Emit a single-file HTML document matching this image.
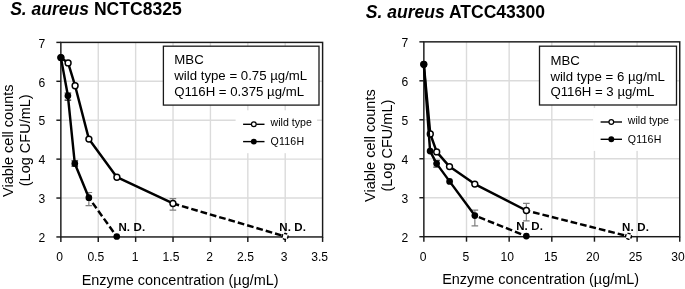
<!DOCTYPE html>
<html><head><meta charset="utf-8"><title>MBC</title>
<style>
html,body{margin:0;padding:0;background:#fff}
svg{display:block}
text{font-family:"Liberation Sans",Arial,Helvetica,sans-serif;fill:#000}
.t{font-size:17.55px;font-weight:bold}
.ax{font-size:14.5px}
.tk{font-size:12.1px}
.mb{font-size:13.22px}
.lg{font-size:10.6px}
.nd{font-size:11.5px;font-weight:bold;letter-spacing:.15px}
.grid{stroke:#dbdbdb;stroke-width:1.4;fill:none}
.axl{stroke:#1a1a1a;stroke-width:1.45;fill:none}
.dl{stroke:#000;stroke-width:2.45;fill:none;stroke-linejoin:round;stroke-linecap:butt}
.da{stroke-dasharray:6.7 3}
.eb{stroke-width:1.2;fill:none}
.mo{fill:#fff;stroke:#000;stroke-width:1.45}
.mf{fill:#000;stroke:none}
.ll{stroke:#000;stroke-width:1.4;fill:none}
</style></head>
<body>
<svg width="685" height="289" viewBox="0 0 685 289">
<rect x="0" y="0" width="685" height="289" fill="#fff"/>

<line class="grid" x1="98.25" y1="42.4" x2="98.25" y2="236.95"/>
<line class="grid" x1="135.64" y1="42.4" x2="135.64" y2="236.95"/>
<line class="grid" x1="173.03" y1="42.4" x2="173.03" y2="236.95"/>
<line class="grid" x1="210.43" y1="42.4" x2="210.43" y2="236.95"/>
<line class="grid" x1="247.82" y1="42.4" x2="247.82" y2="236.95"/>
<line class="grid" x1="285.21" y1="42.4" x2="285.21" y2="236.95"/>
<line class="grid" x1="60.86" y1="81.31" x2="322.6" y2="81.31"/>
<line class="grid" x1="60.86" y1="120.22" x2="322.6" y2="120.22"/>
<line class="grid" x1="60.86" y1="159.13" x2="322.6" y2="159.13"/>
<line class="grid" x1="60.86" y1="198.04" x2="322.6" y2="198.04"/>
<rect x="235.6" y="110.3" width="81.5" height="42.9" fill="#fff"/>
<rect class="axl" x="60.86" y="42.4" width="261.74" height="194.55"/>
<line class="axl" x1="60.86" y1="236.95" x2="60.86" y2="241.95"/>
<line class="axl" x1="98.25" y1="236.95" x2="98.25" y2="241.95"/>
<line class="axl" x1="135.64" y1="236.95" x2="135.64" y2="241.95"/>
<line class="axl" x1="173.03" y1="236.95" x2="173.03" y2="241.95"/>
<line class="axl" x1="210.43" y1="236.95" x2="210.43" y2="241.95"/>
<line class="axl" x1="247.82" y1="236.95" x2="247.82" y2="241.95"/>
<line class="axl" x1="285.21" y1="236.95" x2="285.21" y2="241.95"/>
<line class="axl" x1="322.6" y1="236.95" x2="322.6" y2="241.95"/>
<line class="axl" x1="56.36" y1="42.4" x2="60.86" y2="42.4"/>
<text class="tk" text-anchor="end" x="45.26" y="47.9">7</text>
<line class="axl" x1="56.36" y1="81.31" x2="60.86" y2="81.31"/>
<text class="tk" text-anchor="end" x="45.26" y="86.67">6</text>
<line class="axl" x1="56.36" y1="120.22" x2="60.86" y2="120.22"/>
<text class="tk" text-anchor="end" x="45.26" y="125.44">5</text>
<line class="axl" x1="56.36" y1="159.13" x2="60.86" y2="159.13"/>
<text class="tk" text-anchor="end" x="45.26" y="164.21">4</text>
<line class="axl" x1="56.36" y1="198.04" x2="60.86" y2="198.04"/>
<text class="tk" text-anchor="end" x="45.26" y="202.98">3</text>
<line class="axl" x1="56.36" y1="236.95" x2="60.86" y2="236.95"/>
<text class="tk" text-anchor="end" x="45.26" y="241.75">2</text>
<text class="tk" text-anchor="middle" x="59.7" y="261.2">0</text>
<text class="tk" text-anchor="middle" x="95.8" y="261.2">0.5</text>
<text class="tk" text-anchor="middle" x="135" y="261.2">1</text>
<text class="tk" text-anchor="middle" x="171" y="261.2">1.5</text>
<text class="tk" text-anchor="middle" x="209.6" y="261.2">2</text>
<text class="tk" text-anchor="middle" x="245.5" y="261.2">2.5</text>
<text class="tk" text-anchor="middle" x="284" y="261.2">3</text>
<text class="tk" text-anchor="middle" x="319.7" y="261.2">3.5</text>
<text class="t" x="10.15" y="15.05"><tspan font-style="italic">S. aureus</tspan> NCTC8325</text>
<text class="ax" style="font-size:14.45px" x="81.7" y="284.7">Enzyme concentration (µg/mL)</text>
<text class="ax" text-anchor="middle" transform="translate(13 140.7) rotate(-90)">Viable cell counts</text>
<text class="ax" text-anchor="middle" transform="translate(29.5 140.3) rotate(-90)">(Log CFU/mL)</text>
<path class="eb" stroke="#222" d="M67.9 93V100.2M64.6 93H71.2M64.6 100.2H71.2"/>
<path class="eb" stroke="#222" d="M74.8 160.9V166.1M71.5 160.9H78.1M71.5 166.1H78.1"/>
<path class="eb" stroke="#7f7f7f" d="M88.85 192.5V205.6M85.55 192.5H92.15M85.55 205.6H92.15"/>
<path class="eb" stroke="#7f7f7f" d="M172.9 198.7V210.1M169.6 198.7H176.2M169.6 210.1H176.2"/>
<polyline class="dl" points="60.9,57.6 68.1,62.9 75.1,85.7 88.9,139.1 116.9,177.2 172.95,203.45"/>
<line class="dl da" stroke-dasharray="6.7 2.8" stroke-dashoffset="0.3" x1="172.95" y1="203.45" x2="285.1" y2="236.45"/>
<circle class="mo" cx="60.9" cy="57.6" r="2.95"/>
<circle class="mo" cx="68.1" cy="62.9" r="2.95"/>
<circle class="mo" cx="75.1" cy="85.7" r="2.95"/>
<circle class="mo" cx="88.9" cy="139.1" r="2.95"/>
<circle class="mo" cx="116.9" cy="177.2" r="2.95"/>
<circle class="mo" cx="172.95" cy="203.45" r="2.95"/>
<circle class="mo" stroke-dasharray="3.3 1.2" stroke-dashoffset="1" cx="285.1" cy="236.45" r="2.95"/>
<polyline class="dl" points="60.9,57.6 67.9,95.8 74.8,163.5 88.85,197.7"/>
<line class="dl da" stroke-dashoffset="3.35" x1="88.85" y1="197.7" x2="116.75" y2="236.5"/>
<circle class="mf" cx="60.9" cy="57.6" r="3.35"/>
<circle class="mf" cx="67.9" cy="95.8" r="3.35"/>
<circle class="mf" cx="74.8" cy="163.5" r="3.35"/>
<circle class="mf" cx="88.85" cy="197.7" r="3.35"/>
<circle class="mf" cx="116.75" cy="236.5" r="3.35"/>
<text class="nd" x="118.4" y="231">N. D.</text>
<text class="nd" x="279.2" y="231.2">N. D.</text>
<rect x="163.4" y="46.2" width="155.6" height="58.9" fill="#fff" stroke="#1a1a1a" stroke-width="1.3"/>
<text class="mb" x="174.3" y="64.3">MBC</text>
<text class="mb" x="174.3" y="80">wild type = 0.75 µg/mL</text>
<text class="mb" x="174.3" y="95.7">Q116H = 0.375 µg/mL</text>
<line class="ll" x1="243.1" y1="124.3" x2="264.5" y2="124.3"/>
<circle class="mo" cx="253.8" cy="124.3" r="2.35" style="stroke-width:1.2"/>
<text class="lg" x="270.6" y="125.8">wild type</text>
<line class="ll" x1="243.1" y1="141.6" x2="264.5" y2="141.6"/>
<circle class="mf" cx="253.8" cy="141.6" r="2.95" style="stroke-width:1.2"/>
<text class="lg" style="letter-spacing:.18px" x="270.6" y="145.3">Q116H</text>
<line class="grid" x1="466.51" y1="41.85" x2="466.51" y2="236.7"/>
<line class="grid" x1="509.16" y1="41.85" x2="509.16" y2="236.7"/>
<line class="grid" x1="551.81" y1="41.85" x2="551.81" y2="236.7"/>
<line class="grid" x1="594.45" y1="41.85" x2="594.45" y2="236.7"/>
<line class="grid" x1="637.1" y1="41.85" x2="637.1" y2="236.7"/>
<line class="grid" x1="423.86" y1="80.82" x2="679.75" y2="80.82"/>
<line class="grid" x1="423.86" y1="119.79" x2="679.75" y2="119.79"/>
<line class="grid" x1="423.86" y1="158.76" x2="679.75" y2="158.76"/>
<line class="grid" x1="423.86" y1="197.73" x2="679.75" y2="197.73"/>
<rect x="593.1" y="108" width="81.15" height="42.9" fill="#fff"/>
<rect class="axl" x="423.86" y="41.85" width="255.89" height="194.85"/>
<line class="axl" x1="423.86" y1="236.7" x2="423.86" y2="241.7"/>
<line class="axl" x1="466.51" y1="236.7" x2="466.51" y2="241.7"/>
<line class="axl" x1="509.16" y1="236.7" x2="509.16" y2="241.7"/>
<line class="axl" x1="551.81" y1="236.7" x2="551.81" y2="241.7"/>
<line class="axl" x1="594.45" y1="236.7" x2="594.45" y2="241.7"/>
<line class="axl" x1="637.1" y1="236.7" x2="637.1" y2="241.7"/>
<line class="axl" x1="679.75" y1="236.7" x2="679.75" y2="241.7"/>
<line class="axl" x1="419.36" y1="41.85" x2="423.86" y2="41.85"/>
<text class="tk" text-anchor="end" x="408.26" y="46.95">7</text>
<line class="axl" x1="419.36" y1="80.82" x2="423.86" y2="80.82"/>
<text class="tk" text-anchor="end" x="408.26" y="85.92">6</text>
<line class="axl" x1="419.36" y1="119.79" x2="423.86" y2="119.79"/>
<text class="tk" text-anchor="end" x="408.26" y="124.89">5</text>
<line class="axl" x1="419.36" y1="158.76" x2="423.86" y2="158.76"/>
<text class="tk" text-anchor="end" x="408.26" y="163.86">4</text>
<line class="axl" x1="419.36" y1="197.73" x2="423.86" y2="197.73"/>
<text class="tk" text-anchor="end" x="408.26" y="202.83">3</text>
<line class="axl" x1="419.36" y1="236.7" x2="423.86" y2="236.7"/>
<text class="tk" text-anchor="end" x="408.26" y="241.8">2</text>
<text class="tk" text-anchor="middle" x="423" y="260.8">0</text>
<text class="tk" text-anchor="middle" x="465.8" y="260.8">5</text>
<text class="tk" text-anchor="middle" x="507.2" y="260.8">10</text>
<text class="tk" text-anchor="middle" x="550.8" y="260.8">15</text>
<text class="tk" text-anchor="middle" x="592.7" y="260.8">20</text>
<text class="tk" text-anchor="middle" x="635.6" y="260.8">25</text>
<text class="tk" text-anchor="middle" x="677.9" y="260.8">30</text>
<text class="t" x="365.8" y="17.8"><tspan font-style="italic">S. aureus</tspan> ATCC43300</text>
<text class="ax" style="font-size:14.45px" x="442.2" y="283.8">Enzyme concentration (µg/mL)</text>
<text class="ax" text-anchor="middle" transform="translate(375.4 145.6) rotate(-90)">Viable cell counts</text>
<text class="ax" text-anchor="middle" transform="translate(392.3 145.6) rotate(-90)">(Log CFU/mL)</text>
<path class="eb" stroke="#444" d="M436.6 160.4V167.2M433.3 160.4H439.9M433.3 167.2H439.9"/>
<path class="eb" stroke="#7f7f7f" d="M474.85 210.2V225.8M471.55 210.2H478.15M471.55 225.8H478.15"/>
<path class="eb" stroke="#7f7f7f" d="M526.35 203.4V220.8M523.05 203.4H529.65M523.05 220.8H529.65"/>
<polyline class="dl" points="423.8,64.3 430.3,134 436.7,151.9 449.5,166.6 474.8,184.1 526.35,210.5"/>
<line class="dl da" stroke-dashoffset="2.8" x1="526.35" y1="210.5" x2="628.5" y2="236.3"/>
<circle class="mo" cx="423.8" cy="64.3" r="2.95"/>
<circle class="mo" cx="430.3" cy="134" r="2.95"/>
<circle class="mo" cx="436.7" cy="151.9" r="2.95"/>
<circle class="mo" cx="449.5" cy="166.6" r="2.95"/>
<circle class="mo" cx="474.8" cy="184.1" r="2.95"/>
<circle class="mo" cx="526.35" cy="210.5" r="2.95"/>
<circle class="mo" stroke-dasharray="3.3 1.2" stroke-dashoffset="1" cx="628.5" cy="236.3" r="2.95"/>
<polyline class="dl" points="423.8,64.3 430.1,151.1 436.6,163.6 449.6,181.4 474.85,215.6"/>
<line class="dl da" stroke-dashoffset="5.4" x1="474.85" y1="215.6" x2="526.35" y2="236.1"/>
<circle class="mf" cx="423.8" cy="64.3" r="3.35"/>
<circle class="mf" cx="430.1" cy="151.1" r="3.35"/>
<circle class="mf" cx="436.6" cy="163.6" r="3.35"/>
<circle class="mf" cx="449.6" cy="181.4" r="3.35"/>
<circle class="mf" cx="474.85" cy="215.6" r="3.35"/>
<circle class="mf" cx="526.35" cy="236.1" r="3.35"/>
<text class="nd" x="516.15" y="230.2">N. D.</text>
<text class="nd" x="622.1" y="231">N. D.</text>
<rect x="539.5" y="46.2" width="137" height="58.8" fill="#fff" stroke="#1a1a1a" stroke-width="1.3"/>
<text class="mb" x="550.4" y="64.9">MBC</text>
<text class="mb" x="550.4" y="80.6">wild type = 6 µg/mL</text>
<text class="mb" x="550.4" y="96.3">Q116H = 3 µg/mL</text>
<line class="ll" x1="600.6" y1="122" x2="622" y2="122"/>
<circle class="mo" cx="611.3" cy="122" r="2.35" style="stroke-width:1.2"/>
<text class="lg" x="627.8" y="123.7">wild type</text>
<line class="ll" x1="600.6" y1="139.3" x2="622" y2="139.3"/>
<circle class="mf" cx="611.3" cy="139.3" r="2.95" style="stroke-width:1.2"/>
<text class="lg" style="letter-spacing:.18px" x="627.8" y="143.4">Q116H</text>
</svg>
</body></html>
